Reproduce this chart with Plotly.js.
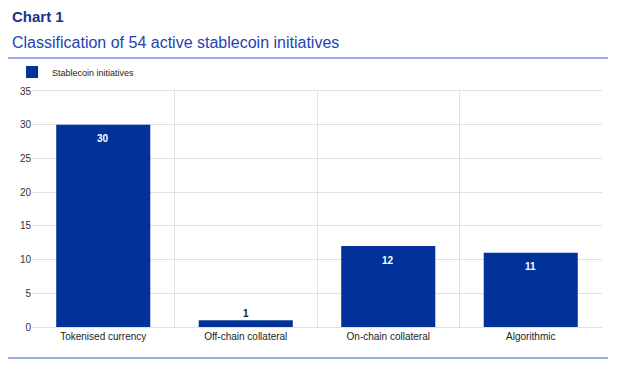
<!DOCTYPE html>
<html><head><meta charset="utf-8">
<script src="https://cdn.plot.ly/plotly-3.0.1.min.js"></script>
<style>html,body{margin:0;padding:0;background:#fff}#chart{width:621px;height:376px}</style>
</head><body><div id="chart"></div>
<script>
const categories = ["Tokenised currency", "Off-chain collateral", "On-chain collateral", "Algorithmic"];
const values = [30, 1, 12, 11];
const seriesName = "Stablecoin initiatives";
const yTicks = [0, 5, 10, 15, 20, 25, 30, 35];

const blue = "#003299";
const fam = "Liberation Sans, Arial, sans-serif";
const trace = {
  type: "bar", x: categories, y: values, name: seriesName,
  marker: {color: blue},
  width: 0.66,
  hoverinfo: "skip"
};
const labelAnns = categories.map((c, i) => {
  const inside = values[i] >= 3;
  return {
    x: c, y: values[i], xref: "x", yref: "y", text: "<b>" + values[i] + "</b>", showarrow: false,
    yanchor: "middle", xanchor: "center", yshift: inside ? -14 : 7,
    font: {size: 10, color: inside ? "#ffffff" : "#222222", family: fam}
  };
});
const layout = {
  width: 621, height: 376,
  margin: {l: 32, r: 19, t: 91, b: 49},
  paper_bgcolor: "#fff", plot_bgcolor: "#fff",
  font: {family: fam, color: "#333"},
  showlegend: true,
  legend: {orientation: "h", x: -0.035, xanchor: "left", y: 1.08, yanchor: "middle",
           font: {size: 9, color: "#222"}, bgcolor: "rgba(0,0,0,0)"},
  xaxis: {type: "category", tickson: "boundaries", showgrid: true, gridcolor: "#e0e0e0", gridwidth: 1,
          ticks: "", tickfont: {size: 10, color: "#222"}, showline: true, linecolor: "#e0e0e0", mirror: true,
          zeroline: false, fixedrange: true},
  yaxis: {range: [0, 35], tickvals: yTicks, ticktext: yTicks.map(String), showgrid: true, gridcolor: "#e0e0e0",
          ticks: "", tickfont: {size: 10, color: "#333"}, zeroline: false, showline: false, fixedrange: true},
  shapes: [
    {type: "line", xref: "paper", yref: "paper", x0: -0.042, x1: 1.0105, y0: 1.1398, y1: 1.1398, line: {color: "#3a5cc8", width: 1.2}},
    {type: "line", xref: "paper", yref: "paper", x0: -0.042, x1: 1.0105, y0: -0.1314, y1: -0.1314, line: {color: "#3a5cc8", width: 1.2}}
  ],
  annotations: [
    {text: "<b>Chart 1</b>", xref: "paper", yref: "paper", x: -0.0386, y: 1.3136, xanchor: "left", yanchor: "middle",
     showarrow: false, font: {size: 15, color: "#123590"}},
    {text: "Classification of 54 active stablecoin initiatives", xref: "paper", yref: "paper", x: -0.0386, y: 1.2034,
     xanchor: "left", yanchor: "middle", showarrow: false, font: {size: 16, color: "#1f43b0"}}
  ].concat(labelAnns)
};
Plotly.newPlot("chart", [trace], layout, {displayModeBar: false, staticPlot: true});
</script></body></html>
